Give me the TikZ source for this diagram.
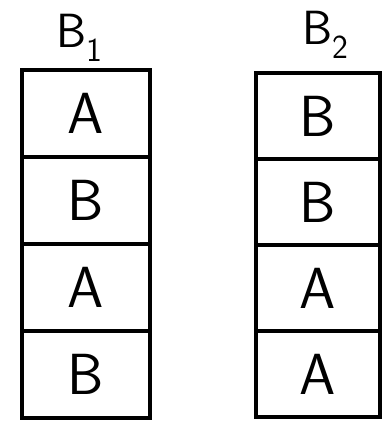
\documentclass[tikz,border=0pt]{standalone}
\usetikzlibrary{positioning}

\tikzset{
  cell/.style={draw=black, line width=4pt, inner sep=0pt, outer sep=0pt,
    minimum height=87pt, font=\fontsize{58}{60}\selectfont\sffamily},
  leftcell/.style={cell, minimum width=128pt},
  rightcell/.style={cell, minimum width=124pt, minimum height=86pt},
  head/.style={inner sep=0pt, anchor=base, font=\fontsize{48}{50}\selectfont\sffamily}
}

\begin{document}
\begin{tikzpicture}[x=1pt, y=-1pt]
  % Marco del dibujo
  \useasboundingbox (0,0) rectangle (386,434);

  % 1. PILA B1
  \node[leftcell] (l1) at (86,113) {A};
  \node[leftcell, below=0pt of l1] (l2) {B};
  \node[leftcell, below=0pt of l2] (l3) {A};
  \node[leftcell, below=0pt of l3] (l4) {B};

  % 2. PILA B2
  \node[rightcell] (r1) at (318,116) {B};
  \node[rightcell, below=0pt of r1] (r2) {B};
  \node[rightcell, below=0pt of r2] (r3) {A};
  \node[rightcell, below=0pt of r3] (r4) {A};

  % 3. ETIQUETAS
  \node[head] (b1) at (80,47) {B\textsubscript{1}};
  \node[head] (b2) at (326,44) {B\textsubscript{2}};
\end{tikzpicture}
\end{document}
